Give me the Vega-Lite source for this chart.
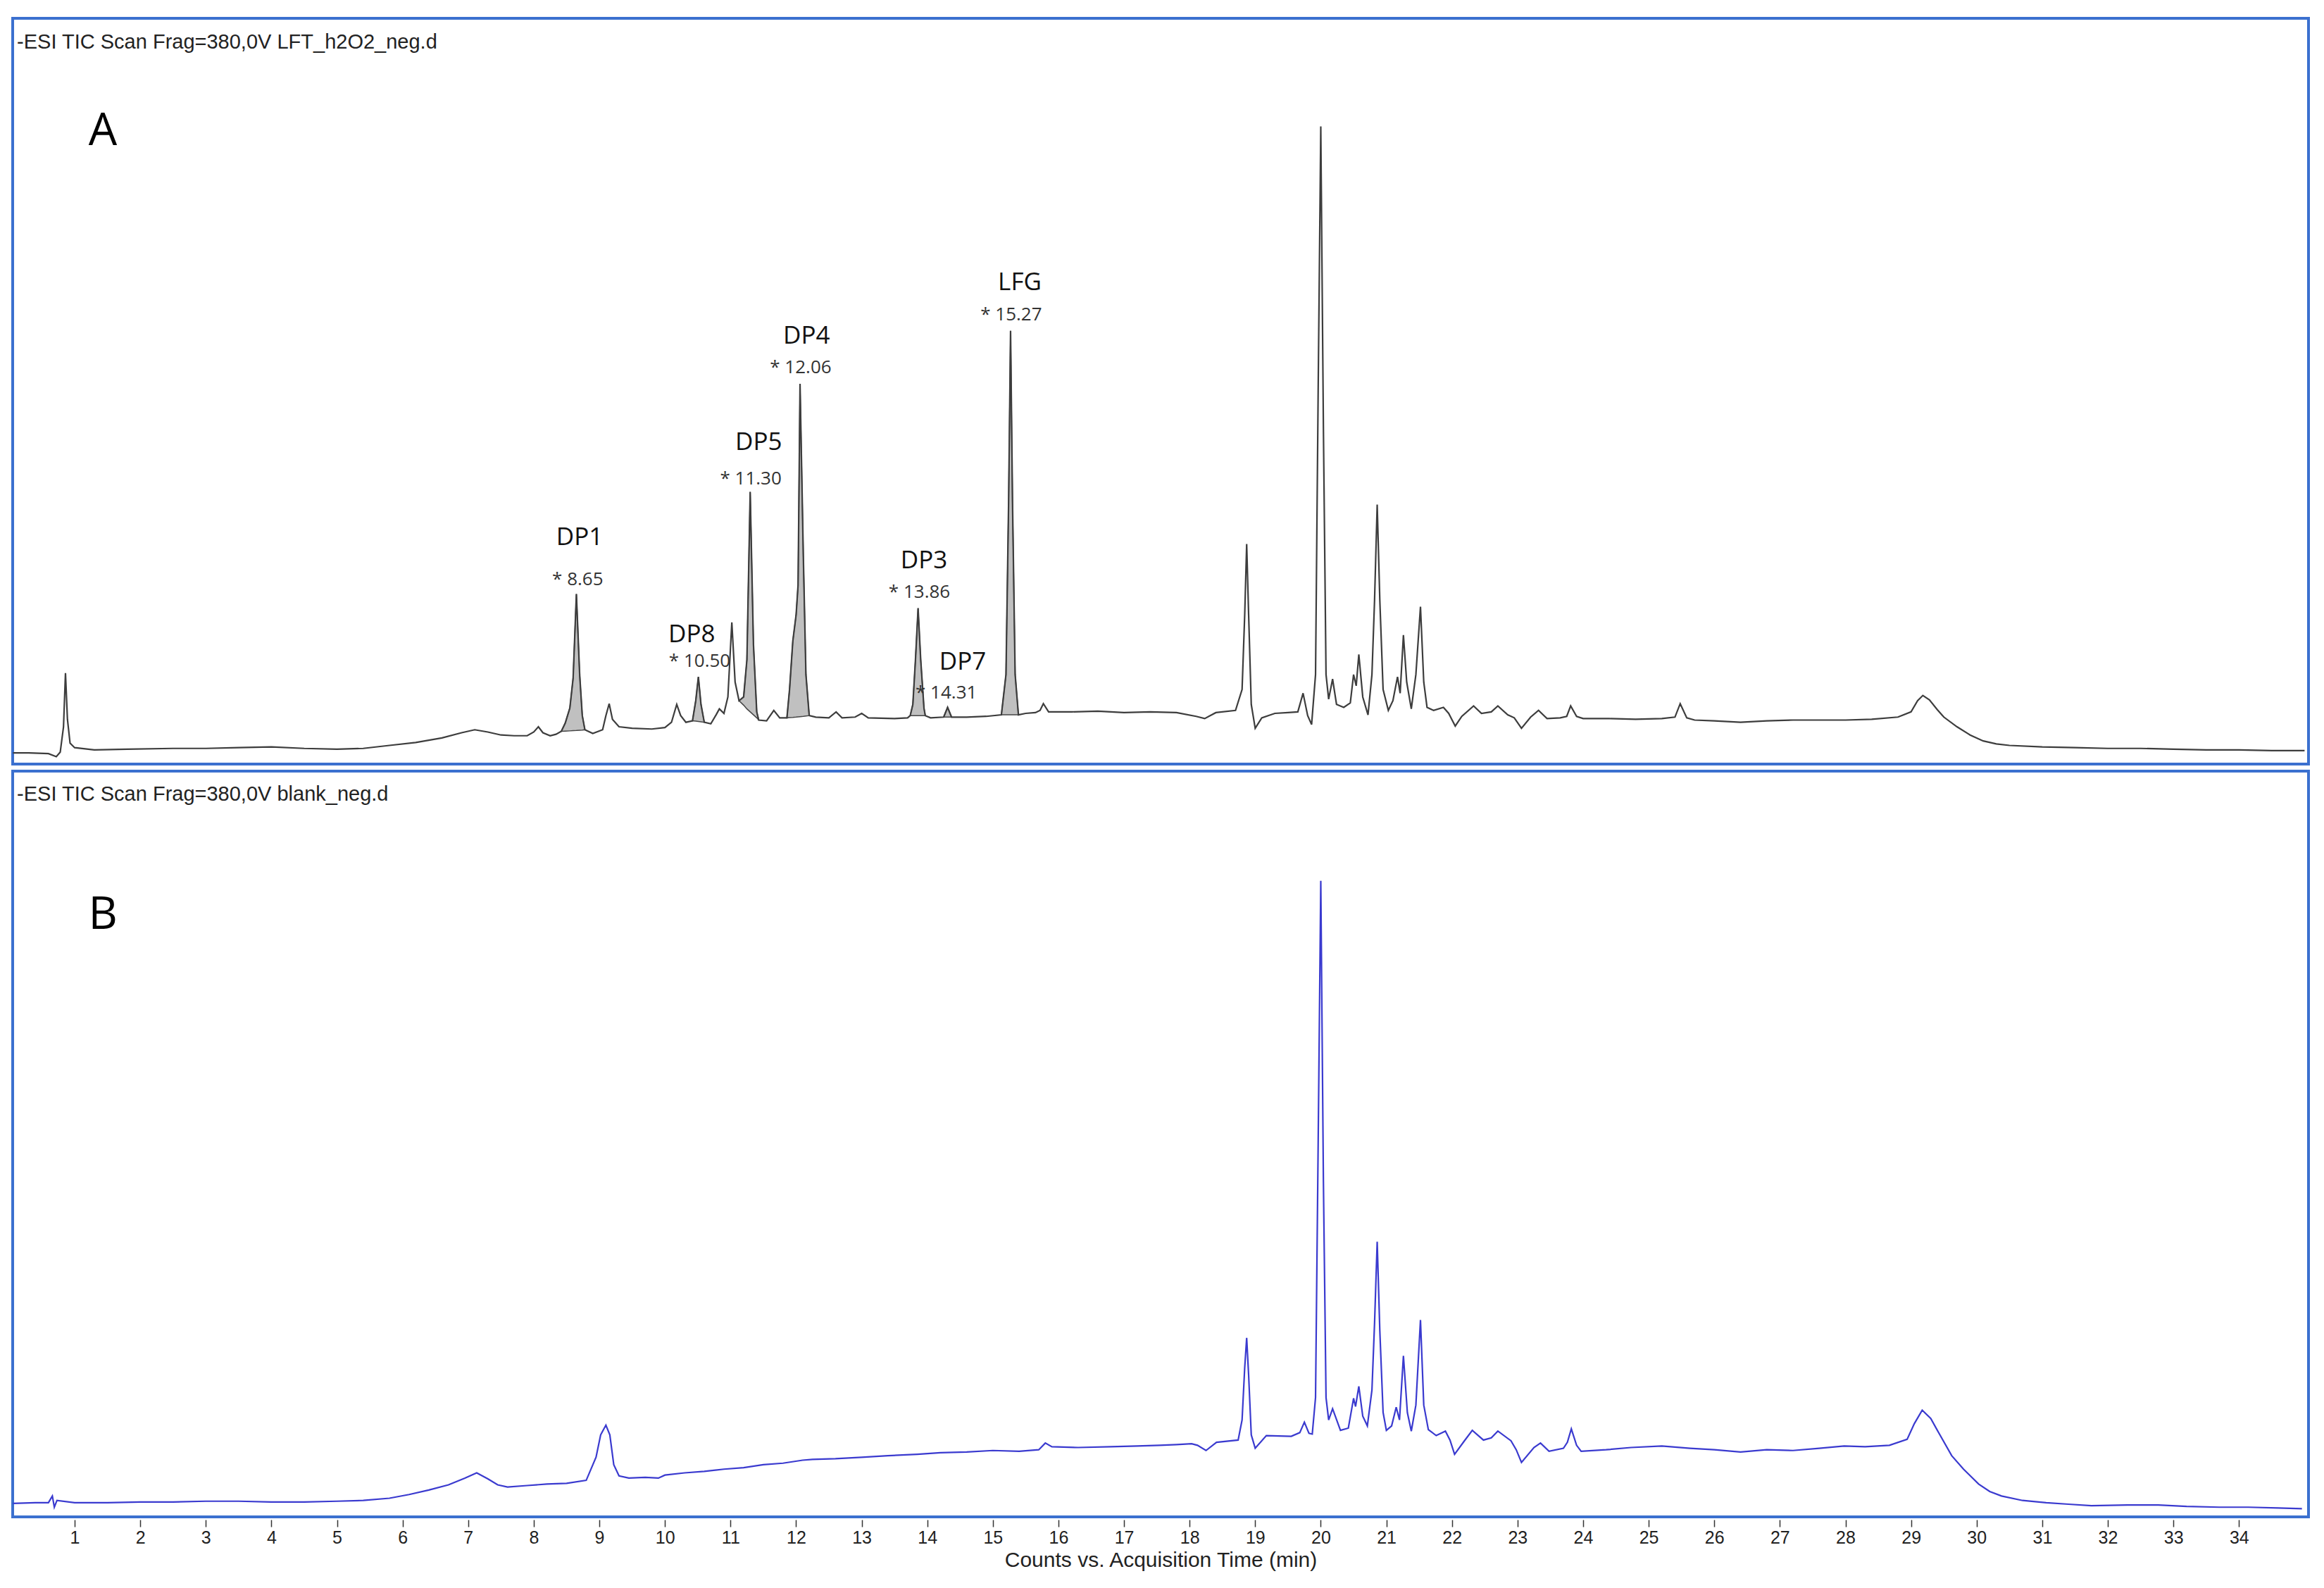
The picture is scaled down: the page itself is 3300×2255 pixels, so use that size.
{
  "$schema": "https://vega.github.io/schema/vega-lite/v6.json",
  "background": "white",
  "padding": {"left": 16, "top": 24, "right": 10, "bottom": 10},
  "spacing": 6,
  "config": {"view": {"stroke": "#3b70cf", "strokeWidth": 4}},
  "datasets": {
    "traceA": [
      {"t":0.06,"i":1.5},{"t":0.3,"i":1.5},{"t":0.6,"i":1.4},{"t":0.72,"i":1.0},{"t":0.78,"i":1.6},{"t":0.83,"i":5.0},{"t":0.86,"i":12.2},{"t":0.89,"i":6.0},{"t":0.93,"i":2.8},{"t":1.0,"i":2.2},
      {"t":1.3,"i":1.9},{"t":1.8,"i":2.0},{"t":2.5,"i":2.1},{"t":3.0,"i":2.1},{"t":3.5,"i":2.2},{"t":4.0,"i":2.3},{"t":4.5,"i":2.1},{"t":5.0,"i":2.0},{"t":5.4,"i":2.1},{"t":5.8,"i":2.5},
      {"t":6.2,"i":2.9},{"t":6.6,"i":3.5},{"t":6.9,"i":4.2},{"t":7.1,"i":4.6},{"t":7.3,"i":4.3},{"t":7.5,"i":3.9},{"t":7.7,"i":3.8},{"t":7.9,"i":3.8},{"t":8.0,"i":4.3},{"t":8.07,"i":5.0},
      {"t":8.14,"i":4.2},{"t":8.25,"i":3.8},{"t":8.34,"i":4.0},{"t":8.42,"i":4.4},{"t":8.48,"i":5.5},{"t":8.55,"i":7.5},{"t":8.6,"i":11.5},{"t":8.65,"i":22.8},{"t":8.7,"i":12.0},{"t":8.74,"i":6.5},
      {"t":8.78,"i":4.6},{"t":8.9,"i":4.1},{"t":9.05,"i":4.6},{"t":9.1,"i":6.5},{"t":9.15,"i":8.1},{"t":9.2,"i":6.0},{"t":9.3,"i":5.0},{"t":9.5,"i":4.8},{"t":9.8,"i":4.7},{"t":10.0,"i":4.9},
      {"t":10.1,"i":5.6},{"t":10.18,"i":8.0},{"t":10.24,"i":6.5},{"t":10.32,"i":5.6},{"t":10.42,"i":5.8},{"t":10.47,"i":8.5},{"t":10.51,"i":11.7},{"t":10.55,"i":8.0},{"t":10.6,"i":5.6},{"t":10.7,"i":5.4},
      {"t":10.78,"i":6.6},{"t":10.83,"i":7.4},{"t":10.9,"i":6.8},{"t":10.96,"i":9.0},{"t":11.02,"i":19.0},{"t":11.07,"i":11.0},{"t":11.13,"i":8.5},{"t":11.2,"i":9.0},{"t":11.25,"i":14.0},{"t":11.3,"i":36.5},
      {"t":11.35,"i":16.0},{"t":11.4,"i":7.0},{"t":11.43,"i":5.9},{"t":11.55,"i":5.8},{"t":11.66,"i":7.2},{"t":11.75,"i":6.2},{"t":11.86,"i":6.2},{"t":11.9,"i":10.0},{"t":11.95,"i":16.5},{"t":12.0,"i":20.0},
      {"t":12.03,"i":24.0},{"t":12.06,"i":51.0},{"t":12.11,"i":28.0},{"t":12.15,"i":12.0},{"t":12.2,"i":6.5},{"t":12.3,"i":6.3},{"t":12.5,"i":6.2},{"t":12.61,"i":7.0},{"t":12.7,"i":6.2},{"t":12.9,"i":6.3},
      {"t":13.0,"i":6.8},{"t":13.1,"i":6.2},{"t":13.5,"i":6.1},{"t":13.7,"i":6.2},{"t":13.74,"i":6.5},{"t":13.78,"i":8.0},{"t":13.82,"i":14.0},{"t":13.86,"i":20.9},{"t":13.9,"i":14.0},{"t":13.95,"i":7.5},
      {"t":13.97,"i":6.5},{"t":14.05,"i":6.2},{"t":14.25,"i":6.3},{"t":14.31,"i":7.6},{"t":14.37,"i":6.3},{"t":14.6,"i":6.3},{"t":14.9,"i":6.4},{"t":15.13,"i":6.6},{"t":15.2,"i":12.0},{"t":15.24,"i":35.0},
      {"t":15.27,"i":58.1},{"t":15.3,"i":35.0},{"t":15.34,"i":12.0},{"t":15.39,"i":6.6},{"t":15.5,"i":6.8},{"t":15.65,"i":6.9},{"t":15.72,"i":7.2},{"t":15.77,"i":8.1},{"t":15.85,"i":7.0},{"t":16.2,"i":7.0},
      {"t":16.6,"i":7.1},{"t":17.0,"i":6.9},{"t":17.4,"i":7.0},{"t":17.8,"i":6.9},{"t":18.1,"i":6.4},{"t":18.23,"i":6.1},{"t":18.4,"i":6.9},{"t":18.7,"i":7.2},{"t":18.8,"i":10.0},{"t":18.84,"i":20.0},
      {"t":18.87,"i":29.5},{"t":18.9,"i":20.0},{"t":18.94,"i":8.0},{"t":19.0,"i":4.8},{"t":19.1,"i":6.2},{"t":19.3,"i":6.8},{"t":19.5,"i":6.9},{"t":19.65,"i":7.0},{"t":19.73,"i":9.5},{"t":19.8,"i":6.5},
      {"t":19.86,"i":5.3},{"t":19.92,"i":12.0},{"t":19.96,"i":50.0},{"t":20.0,"i":85.5},{"t":20.04,"i":45.0},{"t":20.08,"i":12.0},{"t":20.12,"i":8.7},{"t":20.18,"i":11.4},{"t":20.24,"i":8.0},{"t":20.35,"i":7.6},
      {"t":20.45,"i":8.2},{"t":20.5,"i":12.0},{"t":20.54,"i":10.5},{"t":20.58,"i":14.7},{"t":20.64,"i":9.0},{"t":20.72,"i":6.6},{"t":20.78,"i":12.0},{"t":20.82,"i":22.0},{"t":20.86,"i":34.8},{"t":20.9,"i":22.0},
      {"t":20.95,"i":10.0},{"t":21.03,"i":7.2},{"t":21.1,"i":8.5},{"t":21.17,"i":11.7},{"t":21.21,"i":9.5},{"t":21.26,"i":17.3},{"t":21.31,"i":11.0},{"t":21.38,"i":7.4},{"t":21.45,"i":12.0},{"t":21.52,"i":21.1},
      {"t":21.57,"i":11.0},{"t":21.62,"i":7.6},{"t":21.72,"i":7.2},{"t":21.87,"i":7.6},{"t":21.95,"i":6.8},{"t":22.05,"i":5.1},{"t":22.15,"i":6.4},{"t":22.33,"i":7.8},{"t":22.45,"i":6.8},{"t":22.6,"i":7.0},
      {"t":22.7,"i":7.8},{"t":22.85,"i":6.6},{"t":22.95,"i":6.2},{"t":23.06,"i":4.8},{"t":23.2,"i":6.3},{"t":23.32,"i":7.2},{"t":23.45,"i":6.1},{"t":23.65,"i":6.2},{"t":23.75,"i":6.4},{"t":23.81,"i":7.8},
      {"t":23.9,"i":6.4},{"t":24.0,"i":6.1},{"t":24.4,"i":6.1},{"t":24.8,"i":6.0},{"t":25.2,"i":6.1},{"t":25.4,"i":6.3},{"t":25.48,"i":8.1},{"t":25.58,"i":6.2},{"t":25.7,"i":5.9},{"t":26.0,"i":5.8},
      {"t":26.4,"i":5.6},{"t":26.8,"i":5.8},{"t":27.2,"i":5.9},{"t":27.6,"i":5.9},{"t":28.0,"i":5.9},{"t":28.4,"i":6.0},{"t":28.8,"i":6.3},{"t":29.0,"i":7.0},{"t":29.1,"i":8.5},{"t":29.18,"i":9.2},
      {"t":29.28,"i":8.6},{"t":29.4,"i":7.3},{"t":29.5,"i":6.3},{"t":29.7,"i":5.0},{"t":29.9,"i":3.9},{"t":30.1,"i":3.1},{"t":30.3,"i":2.7},{"t":30.5,"i":2.5},{"t":31.0,"i":2.3},{"t":31.5,"i":2.2},
      {"t":32.0,"i":2.1},{"t":32.5,"i":2.1},{"t":33.0,"i":2.0},{"t":33.5,"i":1.9},{"t":34.0,"i":1.9},{"t":34.5,"i":1.8},{"t":35.0,"i":1.8}
    ],
    "fillsA": [
      {"pk":"DP1","t":8.42,"i":4.4,"b":4.4},{"pk":"DP1","t":8.48,"i":5.5,"b":4.42},{"pk":"DP1","t":8.55,"i":7.5,"b":4.45},{"pk":"DP1","t":8.6,"i":11.5,"b":4.48},{"pk":"DP1","t":8.65,"i":22.8,"b":4.5},{"pk":"DP1","t":8.7,"i":12.0,"b":4.53},{"pk":"DP1","t":8.74,"i":6.5,"b":4.56},{"pk":"DP1","t":8.78,"i":4.6,"b":4.6},
      {"pk":"DP8","t":10.42,"i":5.8,"b":5.8},{"pk":"DP8","t":10.47,"i":8.5,"b":5.76},{"pk":"DP8","t":10.51,"i":11.7,"b":5.72},{"pk":"DP8","t":10.55,"i":8.0,"b":5.67},{"pk":"DP8","t":10.6,"i":5.6,"b":5.6},
      {"pk":"DP5","t":11.13,"i":8.5,"b":8.5},{"pk":"DP5","t":11.2,"i":9.0,"b":7.9},{"pk":"DP5","t":11.25,"i":14.0,"b":7.4},{"pk":"DP5","t":11.3,"i":36.5,"b":7.0},{"pk":"DP5","t":11.35,"i":16.0,"b":6.6},{"pk":"DP5","t":11.4,"i":7.0,"b":6.2},{"pk":"DP5","t":11.43,"i":5.9,"b":5.9},
      {"pk":"DP4","t":11.86,"i":6.2,"b":6.2},{"pk":"DP4","t":11.9,"i":10.0,"b":6.23},{"pk":"DP4","t":11.95,"i":16.5,"b":6.26},{"pk":"DP4","t":12.0,"i":20.0,"b":6.3},{"pk":"DP4","t":12.03,"i":24.0,"b":6.33},{"pk":"DP4","t":12.06,"i":51.0,"b":6.36},{"pk":"DP4","t":12.11,"i":28.0,"b":6.4},{"pk":"DP4","t":12.15,"i":12.0,"b":6.45},{"pk":"DP4","t":12.2,"i":6.5,"b":6.5},
      {"pk":"DP3","t":13.74,"i":6.5,"b":6.5},{"pk":"DP3","t":13.78,"i":8.0,"b":6.5},{"pk":"DP3","t":13.82,"i":14.0,"b":6.5},{"pk":"DP3","t":13.86,"i":20.9,"b":6.5},{"pk":"DP3","t":13.9,"i":14.0,"b":6.5},{"pk":"DP3","t":13.95,"i":7.5,"b":6.5},{"pk":"DP3","t":13.97,"i":6.5,"b":6.5},
      {"pk":"DP7","t":14.25,"i":6.3,"b":6.3},{"pk":"DP7","t":14.31,"i":7.6,"b":6.3},{"pk":"DP7","t":14.37,"i":6.3,"b":6.3},
      {"pk":"LFG","t":15.13,"i":6.6,"b":6.6},{"pk":"LFG","t":15.2,"i":12.0,"b":6.6},{"pk":"LFG","t":15.24,"i":35.0,"b":6.6},{"pk":"LFG","t":15.27,"i":58.1,"b":6.6},{"pk":"LFG","t":15.3,"i":35.0,"b":6.6},{"pk":"LFG","t":15.34,"i":12.0,"b":6.6},{"pk":"LFG","t":15.39,"i":6.6,"b":6.6}
    ],
    "textA": [
      {"kind":"name","t":8.70,"i":30.4,"label":"DP1"},
      {"kind":"rt","t":8.67,"i":24.7,"label":"* 8.65"},
      {"kind":"name","t":10.41,"i":17.4,"label":"DP8"},
      {"kind":"rt","t":10.53,"i":13.8,"label":"* 10.50"},
      {"kind":"name","t":11.43,"i":43.2,"label":"DP5"},
      {"kind":"rt","t":11.31,"i":38.2,"label":"* 11.30"},
      {"kind":"name","t":12.16,"i":57.4,"label":"DP4"},
      {"kind":"rt","t":12.07,"i":53.2,"label":"* 12.06"},
      {"kind":"name","t":13.95,"i":27.3,"label":"DP3"},
      {"kind":"rt","t":13.88,"i":23.0,"label":"* 13.86"},
      {"kind":"name","t":14.54,"i":13.7,"label":"DP7"},
      {"kind":"rt","t":14.29,"i":9.5,"label":"* 14.31"},
      {"kind":"name","t":15.41,"i":64.6,"label":"LFG"},
      {"kind":"rt","t":15.28,"i":60.2,"label":"* 15.27"},
      {"kind":"head","t":0.12,"i":96.8,"label":"-ESI TIC Scan Frag=380,0V LFT_h2O2_neg.d"},
      {"kind":"panel","t":1.43,"i":84.8,"label":"A"}
    ],
    "traceB": [
      {"t":0.06,"i":1.8},{"t":0.4,"i":1.9},{"t":0.6,"i":1.9},{"t":0.66,"i":2.8},{"t":0.69,"i":1.3},{"t":0.73,"i":2.2},{"t":1.0,"i":1.9},{"t":1.5,"i":1.9},{"t":2.0,"i":2.0},{"t":2.5,"i":2.0},
      {"t":3.0,"i":2.1},{"t":3.5,"i":2.1},{"t":4.0,"i":2.0},{"t":4.5,"i":2.0},{"t":5.0,"i":2.1},{"t":5.4,"i":2.2},{"t":5.8,"i":2.5},{"t":6.1,"i":3.0},{"t":6.4,"i":3.6},{"t":6.7,"i":4.3},
      {"t":6.95,"i":5.2},{"t":7.13,"i":5.9},{"t":7.3,"i":5.1},{"t":7.45,"i":4.3},{"t":7.6,"i":4.0},{"t":7.9,"i":4.2},{"t":8.2,"i":4.4},{"t":8.5,"i":4.5},{"t":8.8,"i":4.9},{"t":8.95,"i":8.0},
      {"t":9.02,"i":11.0},{"t":9.1,"i":12.3},{"t":9.16,"i":11.0},{"t":9.22,"i":7.0},{"t":9.3,"i":5.5},{"t":9.45,"i":5.2},{"t":9.7,"i":5.3},{"t":9.9,"i":5.2},{"t":10.0,"i":5.6},{"t":10.3,"i":5.9},
      {"t":10.6,"i":6.1},{"t":10.9,"i":6.4},{"t":11.2,"i":6.6},{"t":11.5,"i":7.0},{"t":11.8,"i":7.2},{"t":12.1,"i":7.6},{"t":12.25,"i":7.7},{"t":12.6,"i":7.8},{"t":13.0,"i":8.0},{"t":13.4,"i":8.2},
      {"t":13.85,"i":8.4},{"t":14.2,"i":8.6},{"t":14.6,"i":8.7},{"t":15.0,"i":8.9},{"t":15.4,"i":8.8},{"t":15.7,"i":9.0},{"t":15.8,"i":9.9},{"t":15.9,"i":9.4},{"t":16.3,"i":9.3},{"t":16.8,"i":9.4},
      {"t":17.2,"i":9.5},{"t":17.54,"i":9.6},{"t":17.8,"i":9.7},{"t":18.03,"i":9.8},{"t":18.12,"i":9.6},{"t":18.25,"i":8.9},{"t":18.41,"i":10.0},{"t":18.74,"i":10.3},{"t":18.8,"i":13.0},{"t":18.84,"i":20.0},
      {"t":18.87,"i":24.0},{"t":18.9,"i":19.0},{"t":18.94,"i":11.0},{"t":19.0,"i":9.2},{"t":19.17,"i":10.9},{"t":19.55,"i":10.8},{"t":19.68,"i":11.3},{"t":19.75,"i":12.7},{"t":19.82,"i":11.2},{"t":19.87,"i":11.1},
      {"t":19.92,"i":16.0},{"t":19.96,"i":50.0},{"t":20.0,"i":85.3},{"t":20.04,"i":45.0},{"t":20.08,"i":16.0},{"t":20.12,"i":13.0},{"t":20.18,"i":14.5},{"t":20.3,"i":11.6},{"t":20.42,"i":11.9},{"t":20.5,"i":15.9},
      {"t":20.53,"i":14.8},{"t":20.58,"i":17.5},{"t":20.64,"i":13.5},{"t":20.71,"i":12.2},{"t":20.78,"i":17.0},{"t":20.82,"i":26.0},{"t":20.86,"i":36.9},{"t":20.9,"i":25.0},{"t":20.95,"i":14.0},{"t":21.0,"i":11.6},
      {"t":21.08,"i":12.2},{"t":21.15,"i":14.7},{"t":21.2,"i":13.0},{"t":21.26,"i":21.6},{"t":21.32,"i":14.0},{"t":21.38,"i":11.5},{"t":21.45,"i":15.0},{"t":21.52,"i":26.4},{"t":21.57,"i":15.0},{"t":21.64,"i":11.7},
      {"t":21.76,"i":10.9},{"t":21.9,"i":11.5},{"t":21.97,"i":10.3},{"t":22.04,"i":8.4},{"t":22.19,"i":10.2},{"t":22.31,"i":11.6},{"t":22.48,"i":10.3},{"t":22.6,"i":10.6},{"t":22.7,"i":11.5},{"t":22.9,"i":10.2},
      {"t":22.98,"i":9.0},{"t":23.06,"i":7.3},{"t":23.25,"i":9.3},{"t":23.35,"i":9.9},{"t":23.48,"i":8.8},{"t":23.7,"i":9.2},{"t":23.76,"i":10.0},{"t":23.82,"i":11.8},{"t":23.9,"i":9.6},{"t":23.97,"i":8.8},
      {"t":24.35,"i":9.0},{"t":24.73,"i":9.3},{"t":25.2,"i":9.5},{"t":25.63,"i":9.2},{"t":26.0,"i":9.0},{"t":26.4,"i":8.7},{"t":26.8,"i":9.0},{"t":27.2,"i":8.9},{"t":27.6,"i":9.2},{"t":27.98,"i":9.5},
      {"t":28.3,"i":9.4},{"t":28.67,"i":9.6},{"t":28.94,"i":10.4},{"t":29.05,"i":12.5},{"t":29.17,"i":14.3},{"t":29.3,"i":13.2},{"t":29.42,"i":11.3},{"t":29.62,"i":8.2},{"t":29.8,"i":6.4},{"t":30.03,"i":4.4},
      {"t":30.2,"i":3.4},{"t":30.38,"i":2.8},{"t":30.7,"i":2.2},{"t":31.06,"i":1.9},{"t":31.4,"i":1.7},{"t":31.75,"i":1.5},{"t":32.3,"i":1.6},{"t":32.77,"i":1.6},{"t":33.2,"i":1.4},{"t":33.7,"i":1.3},
      {"t":34.14,"i":1.3},{"t":34.6,"i":1.2},{"t":34.96,"i":1.1}
    ],
    "textB": [
      {"kind":"head","t":0.12,"i":96.9,"label":"-ESI TIC Scan Frag=380,0V blank_neg.d"},
      {"kind":"panel","t":1.43,"i":80.6,"label":"B"}
    ]
  },
  "vconcat": [
    {
      "width": 3260,
      "height": 1059,
      "layer": [
        {
          "data": {"name": "fillsA"},
          "mark": {"type": "area", "color": "#c0c0c0", "stroke": "#444444", "strokeWidth": 1.5},
          "encoding": {
            "x": {"field": "t", "type": "quantitative", "scale": {"domain": [0.055, 35.06], "nice": false, "zero": false}, "axis": null},
            "y": {"field": "i", "type": "quantitative", "scale": {"domain": [0, 100], "nice": false}, "axis": null},
            "y2": {"field": "b"},
            "detail": {"field": "pk"}
          }
        },
        {
          "data": {"name": "traceA"},
          "mark": {"type": "line", "color": "#3d3d3d", "strokeWidth": 2.2, "clip": true},
          "encoding": {
            "x": {"field": "t", "type": "quantitative"},
            "y": {"field": "i", "type": "quantitative"}
          }
        },
        {
          "data": {"name": "textA"},
          "transform": [{"filter": "datum.kind === 'name'"}],
          "mark": {"type": "text", "font": "Open Sans", "fontSize": 35, "color": "#111111", "align": "center", "baseline": "middle"},
          "encoding": {
            "x": {"field": "t", "type": "quantitative"},
            "y": {"field": "i", "type": "quantitative"},
            "text": {"field": "label"}
          }
        },
        {
          "data": {"name": "textA"},
          "transform": [{"filter": "datum.kind === 'rt'"}],
          "mark": {"type": "text", "font": "Open Sans", "fontSize": 26, "color": "#333333", "align": "center", "baseline": "middle"},
          "encoding": {
            "x": {"field": "t", "type": "quantitative"},
            "y": {"field": "i", "type": "quantitative"},
            "text": {"field": "label"}
          }
        },
        {
          "data": {"name": "textA"},
          "transform": [{"filter": "datum.kind === 'head'"}],
          "mark": {"type": "text", "font": "Liberation Sans", "fontSize": 29, "color": "#222222", "align": "left", "baseline": "middle"},
          "encoding": {
            "x": {"field": "t", "type": "quantitative"},
            "y": {"field": "i", "type": "quantitative"},
            "text": {"field": "label"}
          }
        },
        {
          "data": {"name": "textA"},
          "transform": [{"filter": "datum.kind === 'panel'"}],
          "mark": {"type": "text", "font": "Open Sans", "fontSize": 64, "color": "#000000", "align": "center", "baseline": "middle"},
          "encoding": {
            "x": {"field": "t", "type": "quantitative"},
            "y": {"field": "i", "type": "quantitative"},
            "text": {"field": "label"}
          }
        }
      ]
    },
    {
      "width": 3260,
      "height": 1059,
      "layer": [
        {
          "data": {"name": "traceB"},
          "mark": {"type": "line", "color": "#3a3acf", "strokeWidth": 2.2, "clip": true},
          "encoding": {
            "x": {
              "field": "t", "type": "quantitative",
              "scale": {"domain": [0.055, 35.06], "nice": false, "zero": false},
              "axis": {
                "values": [1,2,3,4,5,6,7,8,9,10,11,12,13,14,15,16,17,18,19,20,21,22,23,24,25,26,27,28,29,30,31,32,33,34],
                "format": "d",
                "domain": false, "grid": false, "offset": 4,
                "tickSize": 10, "tickColor": "#333333", "tickWidth": 1.5,
                "labelFont": "Liberation Sans", "labelFontSize": 25, "labelColor": "#222222", "labelPadding": 3, "labelFlush": false,
                "title": "Counts vs. Acquisition Time (min)",
                "titleFont": "Liberation Sans", "titleFontSize": 30, "titleFontWeight": "normal", "titleColor": "#222222", "titlePadding": 4
              }
            },
            "y": {"field": "i", "type": "quantitative", "scale": {"domain": [0, 100], "nice": false}, "axis": null}
          }
        },
        {
          "data": {"name": "textB"},
          "transform": [{"filter": "datum.kind === 'head'"}],
          "mark": {"type": "text", "font": "Liberation Sans", "fontSize": 29, "color": "#222222", "align": "left", "baseline": "middle"},
          "encoding": {
            "x": {"field": "t", "type": "quantitative"},
            "y": {"field": "i", "type": "quantitative"},
            "text": {"field": "label"}
          }
        },
        {
          "data": {"name": "textB"},
          "transform": [{"filter": "datum.kind === 'panel'"}],
          "mark": {"type": "text", "font": "Open Sans", "fontSize": 64, "color": "#000000", "align": "center", "baseline": "middle"},
          "encoding": {
            "x": {"field": "t", "type": "quantitative"},
            "y": {"field": "i", "type": "quantitative"},
            "text": {"field": "label"}
          }
        }
      ]
    }
  ]
}
